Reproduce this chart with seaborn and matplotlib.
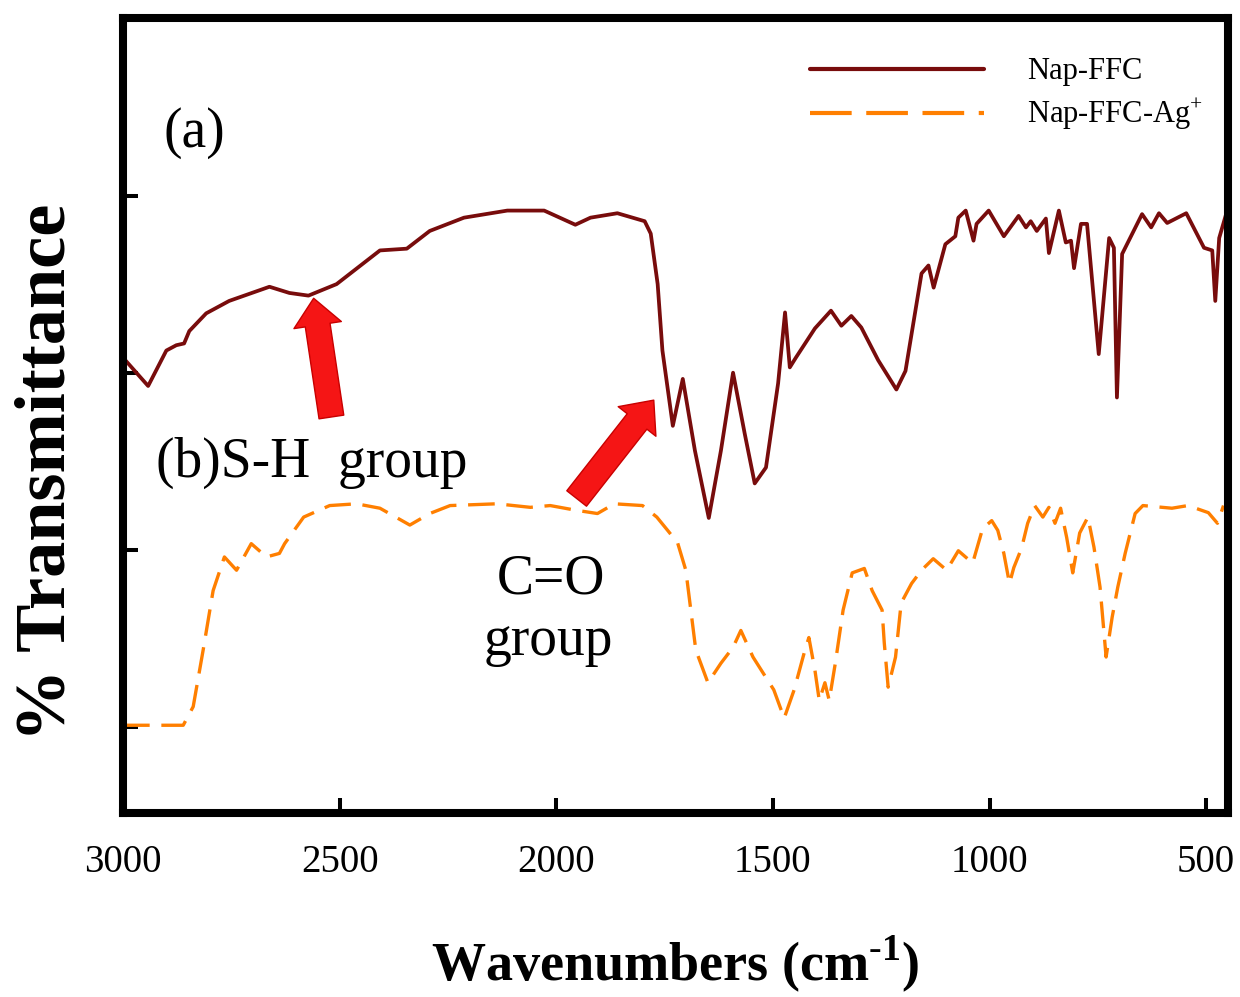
import numpy as np
import pandas as pd
import seaborn as sns
import matplotlib
matplotlib.use('Agg')
import matplotlib.pyplot as plt
from matplotlib.lines import Line2D

# Nap-FFC (a)
wn_a = [3000, 2942, 2900, 2877, 2859, 2847, 2808, 2755, 2662, 2616, 2572, 2507, 2407, 2345,
        2292, 2213, 2113, 2028, 1956, 1921, 1859, 1796, 1782, 1766, 1755, 1731, 1708, 1680,
        1648, 1620, 1592, 1565, 1542, 1516, 1488, 1472, 1461, 1447, 1403, 1366, 1342, 1319,
        1296, 1257, 1215, 1194, 1157, 1141, 1129, 1102, 1079, 1072, 1055, 1037, 1030, 1002,
        967, 933, 916, 905, 891, 870, 863, 840, 824, 812, 805, 789, 775, 748, 724, 713, 706,
        694, 648, 627, 609, 590, 546, 505, 486, 479, 470, 454]
t_a = [61.7, 58.5, 62.5, 63.1, 63.3, 64.7, 66.7, 68.1, 69.7, 69.0, 68.7, 70.0, 73.8, 74.0,
       76.0, 77.5, 78.3, 78.3, 76.7, 77.5, 78.0, 77.1, 75.7, 70.0, 62.5, 54.0, 59.3, 51.2,
       43.6, 51.2, 60.0, 53.1, 47.5, 49.3, 58.8, 66.8, 60.6, 61.7, 65.0, 67.0, 65.3, 66.4,
       65.1, 61.4, 58.1, 60.2, 71.2, 72.1, 69.6, 74.5, 75.4, 77.5, 78.3, 74.9, 76.8, 78.3,
       75.4, 77.7, 76.4, 77.1, 76.0, 77.4, 73.5, 78.3, 74.7, 74.9, 71.8, 76.8, 76.8, 62.1,
       75.2, 74.1, 57.2, 73.4, 77.9, 76.4, 78.0, 76.9, 78.0, 74.1, 73.8, 68.1, 75.2, 77.9]

# Nap-FFC-Ag+ (b)
wn_b = [3000, 2924, 2861, 2838, 2815, 2792, 2766, 2738, 2704, 2669, 2639, 2627, 2583, 2523,
        2461, 2407, 2338, 2292, 2245, 2137, 2060, 2014, 1958, 1905, 1866, 1801, 1768, 1743,
        1720, 1701, 1678, 1650, 1620, 1592, 1574, 1546, 1498, 1474, 1451, 1426, 1417, 1403,
        1393, 1380, 1370, 1356, 1338, 1317, 1289, 1271, 1248, 1243, 1234, 1217, 1204, 1180,
        1157, 1130, 1099, 1072, 1039, 1016, 995, 981, 967, 954, 944, 926, 912, 896, 877, 863,
        849, 836, 822, 808, 792, 773, 759, 745, 731, 717, 704, 687, 664, 646, 579, 542, 495,
        474, 460]
t_b = [20.2, 20.2, 20.2, 22.3, 28.7, 35.4, 39.2, 37.7, 40.7, 39.2, 39.6, 40.7, 43.7, 45.0,
       45.2, 44.7, 42.8, 44.1, 45.0, 45.2, 44.8, 45.0, 44.5, 44.1, 45.2, 45.0, 43.7, 42.2,
       40.8, 37.7, 28.7, 25.0, 27.2, 29.0, 30.9, 27.9, 24.2, 21.0, 24.2, 28.7, 30.1, 26.4,
       23.0, 25.0, 23.0, 27.2, 33.2, 37.4, 37.9, 35.4, 33.2, 29.5, 24.5, 27.9, 34.0, 36.2,
       37.7, 39.0, 37.7, 39.9, 38.5, 42.4, 43.3, 42.2, 39.6, 36.2, 38.0, 40.2, 43.0, 45.0,
       43.7, 44.8, 43.0, 44.7, 41.4, 37.4, 41.9, 43.7, 40.3, 35.8, 27.9, 32.4, 35.8, 39.6,
       44.1, 45.0, 44.7, 45.0, 44.2, 43.0, 45.0]

dark_red = '#780C0C'
orange = '#FF7F00'

sns.set_style('white')
plt.rcParams['font.family'] = ['Liberation Serif', 'DejaVu Serif']
plt.rcParams['mathtext.fontset'] = 'custom'
plt.rcParams['mathtext.rm'] = 'Liberation Serif'
plt.rcParams['mathtext.bf'] = 'Liberation Serif:bold'
plt.rcParams['text.color'] = 'black'
plt.rcParams['axes.labelcolor'] = 'black'

fig = plt.figure(figsize=(12.4, 9.97), dpi=100)
ax = fig.add_axes([0.0992, 0.1846, 0.891, 0.797])

df_a = pd.DataFrame({'wn': wn_a, 't': t_a})
df_b = pd.DataFrame({'wn': wn_b, 't': t_b})
sns.lineplot(data=df_a, x='wn', y='t', ax=ax, color=dark_red, lw=2.7, sort=False)
sns.lineplot(data=df_b, x='wn', y='t', ax=ax, color=orange, lw=2.4, sort=False)
ax.lines[-1].set_dashes((8, 3.5))

ax.set_xlim(3000, 450)
ax.set_ylim(10.3, 100)
ax.set_xticks([3000, 2500, 2000, 1500, 1000, 500])
ax.set_yticks([20, 40, 60, 80])
ax.tick_params(axis='both', direction='in', length=11, width=2.9, colors='black',
               bottom=True, left=True, top=False, right=False, labelsize=28, pad=22)
ax.tick_params(axis='y', labelleft=False)
for s in ax.spines.values():
    s.set_linewidth(5.8)
    s.set_color('black')

ax.set_xlabel(r'Wavenumbers (cm$^{\mathbf{\text{-}1}}$)', fontsize=39, fontweight='bold',
              labelpad=38)
ax.set_ylabel('% Transmittance', fontsize=52, fontweight='bold')
ax.yaxis.set_label_coords(-0.039, 0.429)

# annotations
ax.text(2835, 87.1, '(a)', fontsize=40, ha='center', va='center')
ax.text(2925, 48.2, '(b)S-H  group', fontsize=40, ha='left', va='baseline')
ax.text(2013, 35.1, 'C=O', fontsize=40, ha='center', va='baseline')
ax.text(2018, 28.1, 'group', fontsize=40, ha='center', va='baseline')

arrow = dict(arrowstyle='simple,head_length=1.3,head_width=2.3,tail_width=1.2',
             mutation_scale=15, facecolor='#F51515', edgecolor='#C80000', lw=1,
             shrinkA=0, shrinkB=0)
ax.annotate('', xy=(2560, 68.4), xytext=(2519, 55.0), arrowprops=arrow)
ax.annotate('', xy=(1775, 56.9), xytext=(1953, 45.8), arrowprops=arrow)

handles = [Line2D([], [], color=dark_red, lw=3),
           Line2D([], [], color=orange, lw=3, dashes=(10, 3.5))]
ax.legend(handles, ['Nap-FFC', r'Nap-FFC-Ag$^{+}$'], loc='upper left',
          bbox_to_anchor=(0.6217, 0.951), frameon=False, fontsize=22,
          handlelength=5.7, handletextpad=1.4, labelspacing=0.35, borderpad=0,
          borderaxespad=0)

fig.savefig('out.png', dpi=100)
